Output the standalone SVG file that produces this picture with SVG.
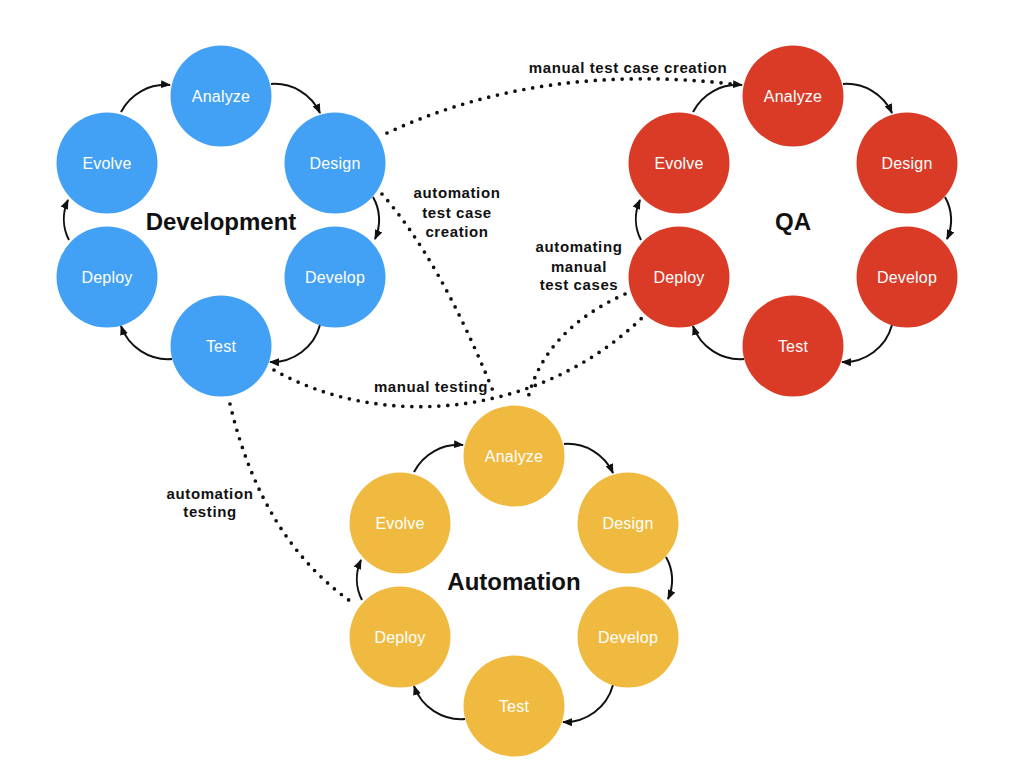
<svg xmlns="http://www.w3.org/2000/svg" width="1024" height="767" viewBox="0 0 1024 767">
<defs>
<marker id="ah" viewBox="0 0 10 8" refX="9" refY="4" markerWidth="10" markerHeight="8" markerUnits="userSpaceOnUse" orient="auto">
<path d="M0,0 L10,4 L0,8 z" fill="#111"/>
</marker>
</defs>
<style>
.dev{fill:#43A1F5}
.qa{fill:#DA3B27}
.au{fill:#F0BA40}
.nl{font-family:"Liberation Sans",Arial,sans-serif;font-size:16px;fill:#fff;text-anchor:middle;letter-spacing:0.2px}
.title{font-family:"Liberation Sans",Arial,sans-serif;font-size:24px;font-weight:bold;fill:#111;text-anchor:middle}
.lbl{font-family:"Liberation Sans",Arial,sans-serif;font-size:15px;font-weight:bold;fill:#111;text-anchor:middle;letter-spacing:0.6px}
.arr{fill:none;stroke:#111;stroke-width:2;marker-end:url(#ah)}
.dot{fill:none;stroke:#111;stroke-width:3.7;stroke-linecap:round;stroke-dasharray:0 9}
</style>
<rect width="1024" height="767" fill="#fff"/>

<g id="connectors">
<path class="dot" d="M387,133 Q540,62 732,84"/>
<path class="dot" d="M382,194 Q440,260 493,391"/>
<path class="dot" d="M274,370 C380,430 540,420 647,313"/>
<path class="dot" d="M625,294 Q545,330 528,398"/>
<path class="dot" d="M230,404 Q262,540 353,603"/>

<path class="arr" d="M121,112 A50,50 0 0 1 170,85"/>
<path class="arr" d="M271,84 A50,50 0 0 1 320,113"/>
<path class="arr" d="M373,197 A46,46 0 0 1 375,239"/>
<path class="arr" d="M320,325 A50,50 0 0 1 270,362"/>
<path class="arr" d="M172,359 A50,50 0 0 1 121,326"/>
<path class="arr" d="M69,240 A46,46 0 0 1 68,200"/>

<path class="arr" d="M693,112 A50,50 0 0 1 742,85"/>
<path class="arr" d="M843,84 A50,50 0 0 1 892,113"/>
<path class="arr" d="M945,197 A46,46 0 0 1 947,239"/>
<path class="arr" d="M892,325 A50,50 0 0 1 842,362"/>
<path class="arr" d="M744,359 A50,50 0 0 1 693,326"/>
<path class="arr" d="M641,240 A46,46 0 0 1 640,200"/>

<path class="arr" d="M414,472 A50,50 0 0 1 463,445"/>
<path class="arr" d="M564,444 A50,50 0 0 1 613,473"/>
<path class="arr" d="M666,557 A46,46 0 0 1 668,599"/>
<path class="arr" d="M613,685 A50,50 0 0 1 563,722"/>
<path class="arr" d="M465,719 A50,50 0 0 1 414,686"/>
<path class="arr" d="M362,600 A46,46 0 0 1 361,560"/>

<text class="lbl" x="628" y="73">manual test case creation</text>
<text class="lbl" x="457" y="198">automation</text>
<text class="lbl" x="457" y="218">test case</text>
<text class="lbl" x="457" y="237">creation</text>
<text class="lbl" x="579" y="252">automating</text>
<text class="lbl" x="579" y="272">manual</text>
<text class="lbl" x="579" y="290">test cases</text>
<text class="lbl" x="431" y="392">manual testing</text>
<text class="lbl" x="210" y="499">automation</text>
<text class="lbl" x="210" y="517">testing</text>
</g>

<g id="development">
<text class="title" x="221" y="230">Development</text>
<g id="dev-analyze"><circle class="dev" cx="221" cy="96" r="50.5"/><text class="nl" x="221" y="101.5">Analyze</text></g>
<g id="dev-design"><circle class="dev" cx="335" cy="163" r="50.5"/><text class="nl" x="335" y="168.5">Design</text></g>
<g id="dev-develop"><circle class="dev" cx="335" cy="277" r="50.5"/><text class="nl" x="335" y="282.5">Develop</text></g>
<g id="dev-test"><circle class="dev" cx="221" cy="346" r="50.5"/><text class="nl" x="221" y="351.5">Test</text></g>
<g id="dev-deploy"><circle class="dev" cx="107" cy="277" r="50.5"/><text class="nl" x="107" y="282.5">Deploy</text></g>
<g id="dev-evolve"><circle class="dev" cx="107" cy="163" r="50.5"/><text class="nl" x="107" y="168.5">Evolve</text></g>
</g>

<g id="qa">
<text class="title" x="793" y="230">QA</text>
<g id="qa-analyze"><circle class="qa" cx="793" cy="96" r="50.5"/><text class="nl" x="793" y="101.5">Analyze</text></g>
<g id="qa-design"><circle class="qa" cx="907" cy="163" r="50.5"/><text class="nl" x="907" y="168.5">Design</text></g>
<g id="qa-develop"><circle class="qa" cx="907" cy="277" r="50.5"/><text class="nl" x="907" y="282.5">Develop</text></g>
<g id="qa-test"><circle class="qa" cx="793" cy="346" r="50.5"/><text class="nl" x="793" y="351.5">Test</text></g>
<g id="qa-deploy"><circle class="qa" cx="679" cy="277" r="50.5"/><text class="nl" x="679" y="282.5">Deploy</text></g>
<g id="qa-evolve"><circle class="qa" cx="679" cy="163" r="50.5"/><text class="nl" x="679" y="168.5">Evolve</text></g>
</g>

<g id="automation">
<text class="title" x="514" y="590">Automation</text>
<g id="au-analyze"><circle class="au" cx="514" cy="456" r="50.5"/><text class="nl" x="514" y="461.5">Analyze</text></g>
<g id="au-design"><circle class="au" cx="628" cy="523" r="50.5"/><text class="nl" x="628" y="528.5">Design</text></g>
<g id="au-develop"><circle class="au" cx="628" cy="637" r="50.5"/><text class="nl" x="628" y="642.5">Develop</text></g>
<g id="au-test"><circle class="au" cx="514" cy="706" r="50.5"/><text class="nl" x="514" y="711.5">Test</text></g>
<g id="au-deploy"><circle class="au" cx="400" cy="637" r="50.5"/><text class="nl" x="400" y="642.5">Deploy</text></g>
<g id="au-evolve"><circle class="au" cx="400" cy="523" r="50.5"/><text class="nl" x="400" y="528.5">Evolve</text></g>
</g>
</svg>
